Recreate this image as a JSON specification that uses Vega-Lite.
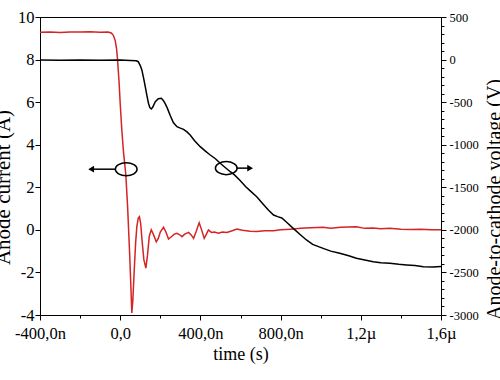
{
  "$schema": "https://vega.github.io/schema/vega-lite/v6.json",
  "width": 401,
  "height": 298,
  "autosize": "none",
  "padding": {"left": 40, "top": 17, "right": 59, "bottom": 65},
  "background": "white",
  "config": {
    "view": {"stroke": "black", "strokeWidth": 1},
    "axis": {
      "grid": false,
      "domainColor": "black",
      "domainWidth": 1,
      "tickColor": "black",
      "tickWidth": 1,
      "labelColor": "black",
      "labelFont": "Liberation Serif",
      "titleFont": "Liberation Serif",
      "titleColor": "black",
      "titleFontWeight": "normal",
      "titleFontSize": 18,
      "labelOverlap": false
    }
  },
  "datasets": {
    "current": [
      {"t": -400, "I": 9.28}, {"t": -350, "I": 9.3}, {"t": -300, "I": 9.27}, {"t": -250, "I": 9.3},
      {"t": -200, "I": 9.29}, {"t": -150, "I": 9.31}, {"t": -100, "I": 9.28}, {"t": -60, "I": 9.29},
      {"t": -45, "I": 9.25}, {"t": -35, "I": 9.15}, {"t": -25, "I": 8.9}, {"t": -18, "I": 8.5},
      {"t": -13, "I": 7.97}, {"t": -6, "I": 7.0}, {"t": 0, "I": 5.94}, {"t": 8, "I": 4.7},
      {"t": 17, "I": 3.59}, {"t": 28, "I": 2.6}, {"t": 37, "I": 1.08}, {"t": 47, "I": -1.1},
      {"t": 53, "I": -2.6}, {"t": 58, "I": -3.9}, {"t": 63, "I": -3.3}, {"t": 70, "I": -1.9},
      {"t": 77, "I": -0.6}, {"t": 83, "I": 0.15}, {"t": 90, "I": 0.55}, {"t": 96, "I": 0.62},
      {"t": 102, "I": 0.3}, {"t": 110, "I": -0.6}, {"t": 118, "I": -1.4}, {"t": 128, "I": -1.8},
      {"t": 136, "I": -1.2}, {"t": 145, "I": -0.3}, {"t": 155, "I": 0.0}, {"t": 165, "I": -0.2},
      {"t": 180, "I": -0.56}, {"t": 190, "I": -0.4}, {"t": 200, "I": -0.1}, {"t": 216, "I": 0.12},
      {"t": 228, "I": -0.1}, {"t": 241, "I": -0.43}, {"t": 258, "I": -0.3}, {"t": 270, "I": -0.2},
      {"t": 283, "I": -0.16}, {"t": 295, "I": -0.22}, {"t": 308, "I": -0.32}, {"t": 322, "I": -0.2},
      {"t": 341, "I": -0.12}, {"t": 355, "I": -0.25}, {"t": 366, "I": -0.4}, {"t": 378, "I": -0.1},
      {"t": 394, "I": 0.33}, {"t": 406, "I": 0.0}, {"t": 419, "I": -0.4}, {"t": 430, "I": -0.2},
      {"t": 440, "I": 0.0}, {"t": 455, "I": -0.12}, {"t": 470, "I": -0.1}, {"t": 490, "I": -0.16},
      {"t": 510, "I": -0.1}, {"t": 532, "I": -0.12}, {"t": 555, "I": -0.05}, {"t": 582, "I": 0.04},
      {"t": 610, "I": -0.02}, {"t": 648, "I": -0.06}, {"t": 681, "I": -0.08}, {"t": 720, "I": -0.04},
      {"t": 765, "I": -0.04}, {"t": 800, "I": 0.0}, {"t": 850, "I": 0.03}, {"t": 900, "I": 0.07},
      {"t": 950, "I": 0.1}, {"t": 1012, "I": 0.12}, {"t": 1050, "I": 0.08}, {"t": 1100, "I": 0.12},
      {"t": 1178, "I": 0.15}, {"t": 1220, "I": 0.07}, {"t": 1260, "I": 0.09}, {"t": 1300, "I": 0.05},
      {"t": 1345, "I": 0.07}, {"t": 1400, "I": 0.03}, {"t": 1450, "I": 0.02}, {"t": 1500, "I": 0.03},
      {"t": 1550, "I": 0.0}, {"t": 1600, "I": 0.01}
    ],
    "voltage": [
      {"t": -400, "V": -5}, {"t": -300, "V": -8}, {"t": -200, "V": -5}, {"t": -100, "V": -8},
      {"t": 0, "V": -5}, {"t": 50, "V": -10}, {"t": 80, "V": -15}, {"t": 90, "V": -25},
      {"t": 100, "V": -70}, {"t": 108, "V": -122}, {"t": 117, "V": -220}, {"t": 125, "V": -318},
      {"t": 133, "V": -420}, {"t": 141, "V": -513}, {"t": 148, "V": -565}, {"t": 155, "V": -580},
      {"t": 162, "V": -560}, {"t": 175, "V": -495}, {"t": 190, "V": -460}, {"t": 205, "V": -455},
      {"t": 215, "V": -480}, {"t": 225, "V": -520}, {"t": 235, "V": -570}, {"t": 250, "V": -660},
      {"t": 265, "V": -740}, {"t": 283, "V": -788}, {"t": 300, "V": -805}, {"t": 316, "V": -820},
      {"t": 333, "V": -850}, {"t": 349, "V": -886}, {"t": 370, "V": -950}, {"t": 399, "V": -1023},
      {"t": 425, "V": -1075}, {"t": 449, "V": -1121}, {"t": 475, "V": -1165}, {"t": 499, "V": -1218},
      {"t": 525, "V": -1270}, {"t": 549, "V": -1317}, {"t": 570, "V": -1355}, {"t": 598, "V": -1420},
      {"t": 625, "V": -1490}, {"t": 650, "V": -1545}, {"t": 681, "V": -1611}, {"t": 710, "V": -1690},
      {"t": 740, "V": -1770}, {"t": 765, "V": -1826}, {"t": 785, "V": -1845}, {"t": 806, "V": -1860},
      {"t": 830, "V": -1910}, {"t": 863, "V": -1982}, {"t": 900, "V": -2060}, {"t": 929, "V": -2119},
      {"t": 960, "V": -2170}, {"t": 1012, "V": -2217}, {"t": 1050, "V": -2250}, {"t": 1095, "V": -2275},
      {"t": 1140, "V": -2305}, {"t": 1178, "V": -2334}, {"t": 1220, "V": -2355}, {"t": 1262, "V": -2374},
      {"t": 1300, "V": -2385}, {"t": 1345, "V": -2393}, {"t": 1390, "V": -2405}, {"t": 1428, "V": -2413},
      {"t": 1470, "V": -2420}, {"t": 1512, "V": -2433}, {"t": 1560, "V": -2435}, {"t": 1600, "V": -2430}
    ],
    "ellipses": [{"t": 30, "I": 2.85}, {"t": 529, "I": 2.9}],
    "arrows": [{"t1": -25, "t2": -145, "I": 2.85}, {"t1": 580, "t2": 645, "I": 2.9}],
    "heads": [{"t": -145, "I": 2.85, "dir": "left"}, {"t": 648, "I": 2.9, "dir": "right"}]
  },
  "layer": [
    {
      "layer": [
        {
          "data": {"name": "current"},
          "mark": {"type": "line", "color": "#d42424", "strokeWidth": 1.5, "clip": true},
          "encoding": {
            "x": {
              "field": "t", "type": "quantitative",
              "scale": {"domain": [-400, 1600], "nice": false, "zero": false},
              "axis": {
                "title": "time (s)",
                "titleFont": "Liberation Serif",
                "titleFontSize": 18,
                "titlePadding": 4,
                "values": [-400, -300, -200, -100, 0, 100, 200, 300, 400, 500, 600, 700, 800, 900, 1000, 1100, 1200, 1300, 1400, 1500, 1600],
                "labelExpr": "datum.value == -400 ? '-400,0n' : datum.value == 0 ? '0,0' : datum.value == 400 ? '400,0n' : datum.value == 800 ? '800,0n' : datum.value == 1200 ? '1,2µ' : datum.value == 1600 ? '1,6µ' : ''",
                "labelFont": "Liberation Serif",
                "labelFontSize": 16.5,
                "labelFlush": false,
                "labelPadding": 5,
                "tickSize": {"condition": {"test": "datum.value % 400 === 0", "value": 5}, "value": 3}
              }
            },
            "y": {
              "field": "I", "type": "quantitative",
              "scale": {"domain": [-4, 10], "nice": false, "zero": false},
              "axis": {
                "title": "Anode current (A)",
                "orient": "left",
                "titleFont": "Liberation Serif",
                "titleFontSize": 21,
                "titleAngle": 270,
                "titleAlign": "center",
                "titleBaseline": "alphabetic",
                "titleX": -31,
                "titleY": 170,
                "values": [-4, -3.5, -3, -2.5, -2, -1.5, -1, -0.5, 0, 0.5, 1, 1.5, 2, 2.5, 3, 3.5, 4, 4.5, 5, 5.5, 6, 6.5, 7, 7.5, 8, 8.5, 9, 9.5, 10],
                "labelExpr": "datum.value % 2 === 0 ? '' + datum.value : ''",
                "labelFont": "Liberation Serif",
                "labelFontSize": 16.5,
                "labelPadding": 1,
                "tickSize": {"condition": {"test": "datum.value % 2 === 0", "value": 5}, "value": 3}
              }
            }
          }
        },
        {
          "data": {"name": "ellipses"},
          "mark": {"type": "point", "shape": "M-1,0A1,0.6,0,1,0,1,0A1,0.6,0,1,0,-1,0Z", "filled": false, "stroke": "black", "strokeWidth": 1.5, "size": 470, "opacity": 1},
          "encoding": {
            "x": {"field": "t", "type": "quantitative"},
            "y": {"field": "I", "type": "quantitative"}
          }
        },
        {
          "data": {"name": "arrows"},
          "mark": {"type": "rule", "color": "black", "strokeWidth": 1.5},
          "encoding": {
            "x": {"field": "t1", "type": "quantitative"},
            "x2": {"field": "t2"},
            "y": {"field": "I", "type": "quantitative"}
          }
        },
        {
          "data": {"name": "heads"},
          "mark": {"type": "point", "filled": true, "color": "black", "size": 45, "opacity": 1},
          "encoding": {
            "x": {"field": "t", "type": "quantitative"},
            "y": {"field": "I", "type": "quantitative"},
            "shape": {"field": "dir", "type": "nominal", "scale": {"domain": ["left", "right"], "range": ["triangle-left", "triangle-right"]}, "legend": null}
          }
        }
      ]
    },
    {
      "data": {"name": "voltage"},
      "mark": {"type": "line", "color": "black", "strokeWidth": 1.5, "clip": true},
      "encoding": {
        "x": {"field": "t", "type": "quantitative"},
        "y": {
          "field": "V", "type": "quantitative",
          "scale": {"domain": [-3000, 500], "nice": false, "zero": false},
          "axis": {
            "title": "Anode-to-cathode voltage (V)",
            "orient": "right",
            "titleFont": "Liberation Serif",
            "titleFontSize": 20,
            "titleAngle": 270,
            "titleAlign": "center",
            "titleBaseline": "alphabetic",
            "titleX": 59,
            "titleY": 182,
            "values": [-3000, -2900, -2800, -2700, -2600, -2500, -2400, -2300, -2200, -2100, -2000, -1900, -1800, -1700, -1600, -1500, -1400, -1300, -1200, -1100, -1000, -900, -800, -700, -600, -500, -400, -300, -200, -100, 0, 100, 200, 300, 400, 500],
            "labelExpr": "datum.value % 500 === 0 ? '' + datum.value : ''",
            "labelFont": "Liberation Serif",
            "labelFontSize": 12.5,
            "labelPadding": 3,
            "tickSize": {"condition": {"test": "datum.value % 500 === 0", "value": 5}, "value": 3}
          }
        }
      }
    }
  ],
  "resolve": {"scale": {"y": "independent"}}
}
